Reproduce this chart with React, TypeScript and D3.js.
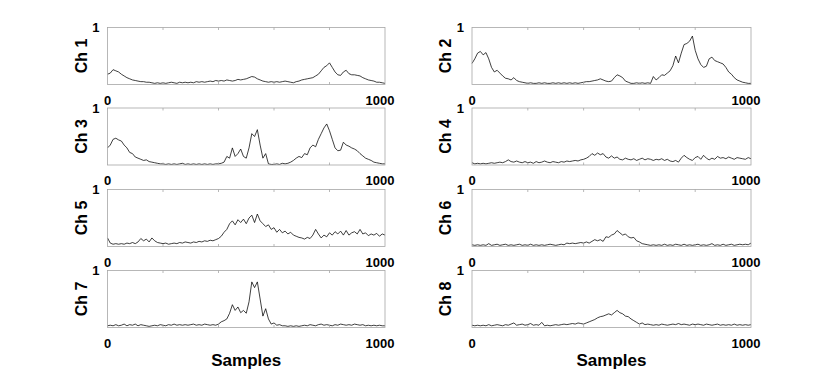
import React from "react";
import * as d3 from "d3";

// readings taken every 10 samples, 0..1000
const ch1 = [0.18,0.2,0.26,0.24,0.22,0.18,0.15,0.12,0.1,0.08,0.07,0.06,0.05,0.05,0.04,0.04,0.03,0.02,0.03,0.02,0.03,0.02,0.03,0.04,0.03,0.02,0.04,0.03,0.04,0.03,0.04,0.03,0.05,0.04,0.05,0.04,0.05,0.06,0.05,0.07,0.06,0.07,0.06,0.08,0.07,0.06,0.07,0.09,0.08,0.09,0.1,0.12,0.14,0.13,0.1,0.08,0.06,0.05,0.04,0.05,0.04,0.05,0.04,0.05,0.06,0.05,0.04,0.03,0.05,0.06,0.08,0.09,0.1,0.11,0.12,0.15,0.18,0.24,0.3,0.33,0.38,0.3,0.22,0.17,0.16,0.22,0.25,0.19,0.17,0.17,0.16,0.15,0.12,0.1,0.08,0.07,0.06,0.04,0.04,0.03,0.02];
const ch2 = [0.37,0.45,0.55,0.58,0.52,0.56,0.45,0.3,0.22,0.25,0.2,0.15,0.11,0.1,0.08,0.12,0.07,0.05,0.04,0.03,0.02,0.03,0.02,0.02,0.03,0.02,0.03,0.02,0.02,0.03,0.02,0.03,0.02,0.03,0.02,0.03,0.02,0.03,0.02,0.03,0.04,0.05,0.05,0.06,0.07,0.08,0.1,0.08,0.06,0.05,0.06,0.12,0.17,0.15,0.12,0.06,0.04,0.02,0.02,0.03,0.02,0.03,0.02,0.03,0.02,0.14,0.08,0.12,0.17,0.16,0.2,0.24,0.33,0.5,0.38,0.55,0.7,0.72,0.76,0.85,0.6,0.45,0.35,0.3,0.32,0.45,0.48,0.42,0.4,0.38,0.36,0.3,0.22,0.18,0.12,0.08,0.06,0.04,0.03,0.02,0.02];
const ch3 = [0.3,0.35,0.45,0.47,0.44,0.42,0.35,0.3,0.22,0.2,0.14,0.12,0.1,0.08,0.09,0.06,0.05,0.04,0.03,0.02,0.02,0.01,0.02,0.01,0.02,0.01,0.02,0.03,0.01,0.02,0.01,0.02,0.01,0.02,0.01,0.02,0.01,0.02,0.01,0.02,0.02,0.03,0.05,0.15,0.12,0.3,0.15,0.2,0.28,0.15,0.12,0.3,0.55,0.5,0.62,0.35,0.12,0.2,0.02,0.01,0.01,0.02,0.01,0.03,0.02,0.03,0.05,0.08,0.12,0.15,0.13,0.2,0.18,0.3,0.35,0.32,0.45,0.55,0.65,0.72,0.6,0.45,0.3,0.25,0.26,0.4,0.35,0.33,0.3,0.28,0.25,0.2,0.16,0.12,0.1,0.08,0.05,0.04,0.03,0.02,0.02];
const ch4 = [0.04,0.02,0.03,0.02,0.03,0.02,0.03,0.04,0.03,0.04,0.05,0.04,0.06,0.09,0.06,0.05,0.07,0.05,0.04,0.06,0.04,0.05,0.03,0.06,0.04,0.05,0.07,0.05,0.04,0.06,0.05,0.04,0.06,0.05,0.07,0.06,0.07,0.08,0.07,0.09,0.1,0.12,0.15,0.2,0.17,0.21,0.18,0.2,0.14,0.12,0.16,0.12,0.14,0.1,0.09,0.12,0.1,0.09,0.11,0.08,0.1,0.12,0.09,0.11,0.1,0.08,0.1,0.09,0.11,0.08,0.1,0.07,0.06,0.08,0.05,0.12,0.17,0.13,0.1,0.08,0.13,0.15,0.1,0.17,0.12,0.09,0.12,0.1,0.15,0.12,0.13,0.11,0.14,0.12,0.1,0.13,0.12,0.11,0.1,0.13,0.11];
const ch5 = [0.15,0.06,0.04,0.05,0.04,0.05,0.04,0.06,0.05,0.07,0.05,0.08,0.14,0.1,0.13,0.08,0.15,0.1,0.07,0.06,0.05,0.06,0.04,0.05,0.06,0.05,0.07,0.06,0.08,0.07,0.06,0.08,0.07,0.09,0.08,0.1,0.09,0.11,0.1,0.12,0.14,0.18,0.25,0.3,0.4,0.45,0.38,0.47,0.42,0.48,0.4,0.5,0.55,0.42,0.57,0.45,0.4,0.35,0.38,0.3,0.33,0.25,0.3,0.24,0.27,0.22,0.25,0.2,0.18,0.16,0.15,0.13,0.16,0.14,0.2,0.3,0.22,0.15,0.2,0.17,0.24,0.2,0.26,0.22,0.27,0.2,0.28,0.2,0.24,0.26,0.22,0.3,0.22,0.24,0.19,0.22,0.2,0.23,0.18,0.22,0.2];
const ch6 = [0.03,0.02,0.03,0.02,0.03,0.02,0.05,0.02,0.03,0.04,0.02,0.03,0.04,0.02,0.03,0.02,0.03,0.04,0.02,0.03,0.02,0.04,0.02,0.03,0.02,0.03,0.02,0.03,0.04,0.03,0.02,0.03,0.04,0.03,0.06,0.05,0.06,0.05,0.06,0.07,0.06,0.08,0.06,0.09,0.12,0.1,0.12,0.09,0.17,0.16,0.2,0.22,0.28,0.24,0.2,0.22,0.17,0.15,0.16,0.1,0.08,0.05,0.04,0.03,0.02,0.03,0.02,0.03,0.02,0.04,0.02,0.03,0.02,0.04,0.03,0.02,0.04,0.02,0.03,0.02,0.03,0.04,0.02,0.03,0.02,0.03,0.05,0.02,0.03,0.02,0.04,0.02,0.03,0.04,0.02,0.03,0.04,0.03,0.04,0.03,0.06];
const ch7 = [0.03,0.04,0.03,0.05,0.03,0.04,0.06,0.03,0.05,0.04,0.06,0.03,0.05,0.04,0.03,0.02,0.03,0.04,0.03,0.05,0.04,0.03,0.05,0.04,0.06,0.04,0.05,0.04,0.05,0.04,0.05,0.06,0.04,0.05,0.04,0.06,0.05,0.04,0.05,0.04,0.06,0.1,0.12,0.15,0.25,0.4,0.3,0.36,0.26,0.3,0.25,0.45,0.8,0.7,0.8,0.5,0.2,0.33,0.15,0.06,0.08,0.04,0.05,0.03,0.03,0.02,0.03,0.02,0.03,0.02,0.03,0.04,0.03,0.05,0.04,0.03,0.05,0.06,0.04,0.05,0.04,0.03,0.05,0.04,0.06,0.05,0.04,0.05,0.04,0.06,0.05,0.04,0.05,0.03,0.04,0.03,0.04,0.03,0.04,0.03,0.03];
const ch8 = [0.04,0.03,0.04,0.03,0.04,0.03,0.05,0.03,0.04,0.05,0.04,0.03,0.05,0.04,0.06,0.08,0.04,0.05,0.06,0.04,0.05,0.07,0.04,0.05,0.04,0.09,0.03,0.04,0.03,0.04,0.05,0.04,0.05,0.06,0.05,0.06,0.07,0.06,0.08,0.07,0.06,0.08,0.1,0.12,0.14,0.17,0.19,0.2,0.22,0.24,0.22,0.26,0.3,0.26,0.24,0.2,0.19,0.15,0.12,0.09,0.06,0.08,0.05,0.06,0.05,0.04,0.05,0.04,0.06,0.05,0.04,0.05,0.06,0.05,0.07,0.05,0.06,0.05,0.04,0.06,0.05,0.06,0.05,0.04,0.06,0.05,0.04,0.05,0.06,0.04,0.05,0.04,0.05,0.04,0.06,0.04,0.05,0.04,0.05,0.04,0.05];

const channels = [ch1, ch2, ch3, ch4, ch5, ch6, ch7, ch8];
const channelNames = ["Ch 1", "Ch 2", "Ch 3", "Ch 4", "Ch 5", "Ch 6", "Ch 7", "Ch 8"];
const xTicks = [0, 200, 400, 600, 800, 1000];
const xTickLabels = ["0", "", "", "", "", "1000"];
const yTickLabel = "1";
const xTitle = "Samples";

const W = 830;
const H = 371;
const colLeft = [107.5, 472];
const panelW = [277.5, 279];
const rowTop = [27.5, 108, 189.5, 270.5];
const panelH = 57;
const boxColor = "#a6a6a6";
const font = "'Liberation Sans', Arial, sans-serif";

const Panel = ({ idx }: { idx: number }) => {
  const col = idx % 2;
  const row = Math.floor(idx / 2);
  const x0 = colLeft[col];
  const y0 = rowTop[row];
  const w = panelW[col];

  const x = d3.scaleLinear().domain([0, 1000]).range([x0, x0 + w]);
  const y = d3.scaleLinear().domain([0, 1]).range([y0 + panelH, y0]);
  const vals = channels[idx];
  const step = 1000 / (vals.length - 1);
  const line = d3
    .line<number>()
    .x((_, i) => x(i * step))
    .y((d) => y(d));

  return (
    <g>
      <path d={line(vals) || ""} fill="none" stroke="#000" strokeWidth={0.75} />
      <rect x={x0} y={y0} width={w} height={panelH} fill="none" stroke={boxColor} strokeWidth={0.8} />
      {xTicks.slice(1, -1).map((t) => (
        <g key={t}>
          <line x1={x(t)} x2={x(t)} y1={y(0)} y2={y(0) - 2.5} stroke={boxColor} strokeWidth={0.8} />
          <line x1={x(t)} x2={x(t)} y1={y(1)} y2={y(1) + 2.5} stroke={boxColor} strokeWidth={0.8} />
        </g>
      ))}
      {xTicks.map((t, i) =>
        xTickLabels[i] ? (
          <text
            key={"l" + t}
            x={x(t) - (t === 1000 ? 5 : 0)}
            y={y(0) + 20}
            textAnchor="middle"
            fontSize={13}
            fontWeight="bold"
            fontFamily={font}
          >
            {xTickLabels[i]}
          </text>
        ) : null
      )}
      <text
        x={x0 - 8}
        y={y(1) + 4.5}
        textAnchor="end"
        fontSize={13}
        fontWeight="bold"
        fontFamily={font}
      >
        {yTickLabel}
      </text>
      <text
        transform={`translate(${x0 - 21},${y0 + panelH / 2}) rotate(-90)`}
        textAnchor="middle"
        fontSize={16}
        fontWeight="bold"
        fontFamily={font}
      >
        {channelNames[idx]}
      </text>
    </g>
  );
};

export default function App() {
  return (
    <svg
      width={W}
      height={H}
      style={{ position: "absolute", left: 0, top: 0, background: "#fff" }}
    >
      {channels.map((_, i) => (
        <Panel key={i} idx={i} />
      ))}
      {[0, 1].map((c) => (
        <text
          key={c}
          x={colLeft[c] + panelW[c] / 2}
          y={366}
          textAnchor="middle"
          fontSize={17}
          fontWeight="bold"
          fontFamily={font}
        >
          {xTitle}
        </text>
      ))}
    </svg>
  );
}
